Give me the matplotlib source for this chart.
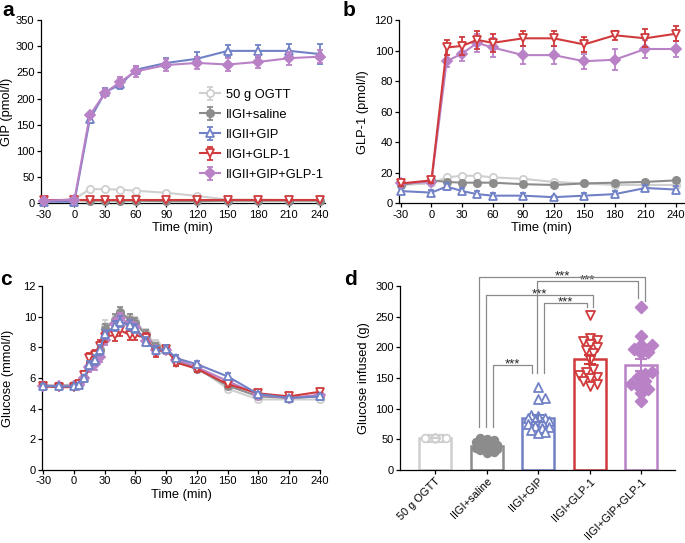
import numpy as np
import matplotlib
matplotlib.use('Agg')
import matplotlib.pyplot as plt

plt.rcParams['font.family'] = ['Liberation Sans', 'DejaVu Sans']
plt.rcParams['font.size'] = 8
plt.rcParams['axes.unicode_minus'] = False
plt.rcParams['axes.linewidth'] = 0.9
plt.rcParams['xtick.major.width'] = 0.9
plt.rcParams['ytick.major.width'] = 0.9
plt.rcParams['xtick.major.size'] = 3
plt.rcParams['ytick.major.size'] = 3

# ---------------- data ----------------
legend_labels = ['50 g OGTT', 'IIGI+saline', 'IIGII+GIP', 'IIGI+GLP-1', 'IIGII+GIP+GLP-1']
bar_labels = ['50 g OGTT', 'IIGI+saline', 'IIGI+GIP', 'IIGI+GLP-1', 'IIGI+GIP+GLP-1']

t_ab = [-30, 0, 15, 30, 45, 60, 90, 120, 150, 180, 210, 240]

# panel a: GIP (pmol/l)
gip_ogtt = [4, 8, 27, 27, 26, 24, 20, 14, 7, 7, 6, 6]
gip_saline = [5, 6, 5, 5, 5, 5, 4, 4, 5, 5, 5, 5]
gip_gip = [3, 3, 160, 212, 227, 255, 268, 276, 291, 291, 291, 285]
gip_glp1 = [6, 6, 6, 6, 6, 6, 6, 6, 6, 6, 6, 6]
gip_both = [5, 7, 168, 211, 232, 252, 264, 268, 265, 270, 277, 280]
gip_ogtt_err = [1, 1, 2, 2, 2, 2, 2, 2, 1, 1, 1, 1]
gip_saline_err = [1, 1, 1, 1, 1, 1, 1, 1, 1, 1, 1, 1]
gip_gip_err = [1, 1, 6, 8, 8, 8, 10, 12, 12, 12, 14, 19]
gip_glp1_err = [2, 2, 2, 2, 2, 2, 2, 2, 2, 2, 2, 2]
gip_both_err = [1, 2, 5, 6, 10, 10, 12, 12, 13, 12, 12, 12]

# panel b: GLP-1 (pmol/l)
glp_ogtt = [12, 13, 17, 18, 18, 17, 16, 14, 13, 12, 12, 12]
glp_saline = [12, 15, 14, 13.5, 13.5, 13.5, 12.5, 12, 13, 13.5, 14, 15]
glp_gip = [8, 7, 11, 8, 6, 5, 5, 4, 5, 6, 10, 9]
glp_glp1 = [13, 15, 102, 103, 107, 105, 108, 108, 104, 110, 108, 111]
glp_both = [13, 14, 93, 98, 105, 102, 97, 97, 93, 94, 101, 101]
glp_ogtt_err = [1, 1, 1, 1, 1, 1, 1, 1, 1, 1, 1, 1]
glp_saline_err = [1, 1, 1, 1, 1, 1, 1, 1, 1, 1, 1, 1]
glp_gip_err = [2, 2, 2, 2, 2, 2, 2, 1, 2, 2, 2, 2]
glp_glp1_err = [2, 2, 5, 6, 6, 6, 5, 5, 5, 3, 6, 5]
glp_both_err = [2, 2, 4, 5, 6, 6, 6, 6, 5, 7, 6, 5]

# panel c: glucose (mmol/l)
t_c = [-30, -15, 0, 5, 10, 15, 20, 25, 30, 40, 45, 55, 60, 70, 80, 90, 100, 120, 150, 180, 210, 240]
glu_ogtt = [5.5, 5.5, 5.6, 5.6, 6.0, 6.7, 7.1, 7.9, 9.4, 9.7, 10.0, 9.9, 9.7, 8.9, 8.2, 7.9, 7.2, 6.7, 5.3, 4.6, 4.6, 4.6]
glu_saline = [5.5, 5.5, 5.5, 5.6, 6.0, 6.8, 7.2, 7.8, 9.2, 9.8, 10.3, 9.8, 9.6, 8.8, 8.0, 7.8, 7.1, 6.6, 5.5, 4.8, 4.7, 4.8]
glu_gip = [5.48, 5.45, 5.45, 5.55, 5.98, 6.85, 7.17, 7.83, 8.85, 9.39, 9.67, 9.46, 9.24, 8.37, 7.83, 7.9, 7.28, 6.9, 6.1, 4.95, 4.7, 4.8]
glu_glp1 = [5.45, 5.4, 5.4, 5.6, 6.2, 7.3, 7.5, 8.1, 8.7, 8.8, 9.1, 8.8, 8.8, 8.6, 7.7, 7.9, 7.0, 6.6, 5.6, 5.0, 4.8, 5.1]
glu_both = [5.5, 5.45, 5.45, 5.55, 6.0, 6.7, 6.9, 7.4, 8.5, 9.5, 9.9, 9.5, 9.3, 8.4, 7.8, 7.8, 7.2, 6.7, 5.8, 4.9, 4.7, 4.9]
glu_ogtt_err = [0.15, 0.15, 0.15, 0.15, 0.2, 0.3, 0.3, 0.3, 0.35, 0.35, 0.35, 0.3, 0.3, 0.3, 0.3, 0.25, 0.2, 0.2, 0.2, 0.15, 0.15, 0.15]
glu_saline_err = [0.15, 0.15, 0.15, 0.15, 0.2, 0.3, 0.3, 0.35, 0.35, 0.4, 0.35, 0.35, 0.3, 0.3, 0.3, 0.25, 0.2, 0.2, 0.2, 0.15, 0.15, 0.15]
glu_gip_err = [0.1, 0.1, 0.1, 0.15, 0.2, 0.25, 0.3, 0.3, 0.3, 0.35, 0.35, 0.3, 0.3, 0.3, 0.25, 0.25, 0.2, 0.2, 0.2, 0.15, 0.15, 0.15]
glu_glp1_err = [0.15, 0.15, 0.15, 0.15, 0.25, 0.35, 0.35, 0.35, 0.35, 0.4, 0.35, 0.3, 0.3, 0.3, 0.3, 0.25, 0.2, 0.2, 0.2, 0.15, 0.15, 0.15]
glu_both_err = [0.15, 0.15, 0.15, 0.15, 0.2, 0.3, 0.35, 0.35, 0.35, 0.35, 0.35, 0.3, 0.3, 0.3, 0.3, 0.25, 0.2, 0.2, 0.2, 0.15, 0.15, 0.15]

# panel d: glucose infused (g), individual subjects
inf_ogtt = [52] * 17
inf_saline = [53, 50, 49, 45, 42, 40, 39, 38, 37, 36, 35, 34, 33, 32, 30, 28, 37]
inf_gip = [136, 118, 116, 90, 88, 85, 84, 82, 80, 78, 75, 72, 70, 68, 65, 62, 60]
inf_glp1 = [253, 215, 212, 210, 205, 200, 195, 190, 180, 165, 160, 155, 152, 150, 145, 140, 137]
inf_both = [265, 219, 203, 203, 198, 193, 190, 157, 152, 145, 140, 137, 132, 126, 113, 160]

# significance brackets: (left x, right x, bracket y, left leg bottom, right leg bottom)
brackets = [
    (0.86, 4.08, 315, 70, 276),
    (1.98, 3.94, 308, 158, 281),
    (0.99, 3.07, 286, 70, 265),
    (2.12, 2.95, 273, 158, 265),
    (1.13, 1.88, 171, 70, 158),
]

# ---------------- styles ----------------
colors = ['#cfcfcf', '#8c8c8c', '#7181c6', '#d03a3c', '#ba82c6']
markers = ['o', 'o', '^', 'v', 'D']
mfcs = ['white', '#8c8c8c', 'white', 'white', '#ba82c6']
msizes = [5.2, 5.2, 6.0, 6.0, 4.6]

fig = plt.figure(figsize=(6.85, 5.43), dpi=100)

ax_a = fig.add_axes([0.0594, 0.6256, 0.415, 0.3376])
ax_b = fig.add_axes([0.583, 0.6256, 0.4155, 0.3376])
ax_c = fig.add_axes([0.0618, 0.1344, 0.405, 0.339])
ax_d = fig.add_axes([0.584, 0.1344, 0.4015, 0.339])

LAB = 9.3


def style(ax):
    for s in ['top', 'right']:
        ax.spines[s].set_visible(False)
    ax.tick_params(direction='out', labelsize=8, pad=1.5)


def series(ax, t, y, e, i, z, label=None):
    ax.errorbar(t, y, yerr=e, color=colors[i], marker=markers[i], ms=msizes[i],
                mfc=mfcs[i], mec=colors[i], mew=1.3, lw=1.5, capsize=2.3,
                elinewidth=1.3, capthick=1.3, zorder=z, clip_on=False, label=label)


# panel a
series(ax_a, t_ab, gip_ogtt, gip_ogtt_err, 0, 2, legend_labels[0])
series(ax_a, t_ab, gip_saline, gip_saline_err, 1, 3, legend_labels[1])
series(ax_a, t_ab, gip_gip, gip_gip_err, 2, 4, legend_labels[2])
series(ax_a, t_ab, gip_glp1, gip_glp1_err, 3, 5, legend_labels[3])
series(ax_a, t_ab, gip_both, gip_both_err, 4, 6, legend_labels[4])
ax_a.set_xlim(-33, 245)
ax_a.set_ylim(0, 350)
ax_a.set_yticks(range(0, 351, 50))
ax_a.set_xticks(range(-30, 241, 30))
ax_a.set_ylabel('GIP (pmol/l)', fontsize=LAB, labelpad=2)
ax_a.set_xlabel('Time (min)', fontsize=LAB, labelpad=2)
style(ax_a)
h, l = ax_a.get_legend_handles_labels()
leg = ax_a.legend(h, l, loc='upper left', bbox_to_anchor=(0.56, 0.625), frameon=False,
                  fontsize=9.3, handlelength=1.55, handletextpad=0.47, labelspacing=0.62,
                  borderaxespad=0, borderpad=0)

# panel b
series(ax_b, t_ab, glp_ogtt, glp_ogtt_err, 0, 2)
series(ax_b, t_ab, glp_saline, glp_saline_err, 1, 3)
series(ax_b, t_ab, glp_gip, glp_gip_err, 2, 4)
series(ax_b, t_ab, glp_both, glp_both_err, 4, 5)
series(ax_b, t_ab, glp_glp1, glp_glp1_err, 3, 6)
ax_b.set_xlim(-31.5, 248)
ax_b.set_ylim(0, 120)
ax_b.set_yticks(range(0, 121, 20))
ax_b.set_xticks(range(-30, 241, 30))
ax_b.set_ylabel('GLP-1 (pmol/l)', fontsize=LAB, labelpad=4)
ax_b.set_xlabel('Time (min)', fontsize=LAB, labelpad=2)
style(ax_b)

# panel c
series(ax_c, t_c, glu_ogtt, glu_ogtt_err, 0, 2)
series(ax_c, t_c, glu_saline, glu_saline_err, 1, 3)
series(ax_c, t_c, glu_both, glu_both_err, 4, 4)
series(ax_c, t_c, glu_glp1, glu_glp1_err, 3, 5)
series(ax_c, t_c, glu_gip, glu_gip_err, 2, 6)
ax_c.set_xlim(-31, 240)
ax_c.set_ylim(0, 12)
ax_c.set_yticks(range(0, 13, 2))
ax_c.set_xticks(range(-30, 241, 30))
ax_c.set_ylabel('Glucose (mmol/l)', fontsize=LAB, labelpad=7)
ax_c.set_xlabel('Time (min)', fontsize=LAB, labelpad=2)
style(ax_c)

# panel d
ax_d.set_xlim(-0.68, 4.66)
ax_d.set_ylim(0, 300)
ax_d.set_yticks(range(0, 301, 50))
ax_d.set_xticks(range(5))
ax_d.set_ylabel('Glucose infused (g)', fontsize=LAB, labelpad=4)
style(ax_d)
ax_d.set_xticklabels(bar_labels, rotation=45, ha='right', va='top', rotation_mode='anchor',
                     fontsize=7.9)


def swarm_offsets(ax, xc, vals, diam, half_w):
    T = ax.transData
    pts = T.transform(np.column_stack([np.full(len(vals), float(xc)), np.asarray(vals, float)]))
    ys = pts[:, 1]
    order = np.argsort(ys, kind='stable')
    step = diam * 0.5
    cands = [0.0]
    k = 1
    while k * step <= half_w:
        cands += [k * step, -k * step]
        k += 1
    placed = []
    offs = np.zeros(len(vals))
    for idx in order:
        y = ys[idx]
        best, bestd = 0.0, -1
        for c in cands:
            dmin = min([np.hypot(c - px, y - py) for px, py in placed], default=1e9)
            if dmin >= diam:
                best = c
                break
            if dmin > bestd:
                bestd, best = dmin, c
        placed.append((best, y))
        offs[idx] = best
    unit = T.transform((1, 0))[0] - T.transform((0, 0))[0]
    return offs / unit


d_sets = [inf_ogtt, inf_saline, inf_gip, inf_glp1, inf_both]
d_sizes = [30, 30, 42, 42, 36]
for i, vals in enumerate(d_sets):
    vals = np.asarray(vals, float)
    m = vals.mean()
    sem = vals.std(ddof=1) / np.sqrt(len(vals))
    ax_d.bar(i, m, width=0.62, facecolor='white', edgecolor=colors[i], linewidth=1.8, zorder=1)
    offs = swarm_offsets(ax_d, i, vals, 7.0, 13)
    ax_d.scatter(i + offs, vals, s=d_sizes[i], marker=markers[i], facecolors=mfcs[i],
                 edgecolors=colors[i], linewidths=1.3, zorder=3, clip_on=False)
    ax_d.errorbar(i, m, yerr=sem, color=colors[i], capsize=4.5, elinewidth=1.5,
                  capthick=1.5, zorder=4)

for x1, x2, yb, l1, l2 in brackets:
    ax_d.plot([x1, x1, x2, x2], [l1, yb, yb, l2], color='#8a8a8a', lw=0.9,
              clip_on=False, zorder=5)
    ax_d.text((x1 + x2) / 2, yb - 4, '***', ha='center', va='baseline', fontsize=9.5,
              color='#222222', clip_on=False)

# panel letters
for x, y, s in [(0.004, 0.999, 'a'), (0.500, 0.999, 'b'), (0.0, 0.503, 'c'), (0.503, 0.503, 'd')]:
    fig.text(x, y, s, fontsize=15, fontweight='bold', va='top', ha='left')

fig.savefig('out.png', dpi=100)
